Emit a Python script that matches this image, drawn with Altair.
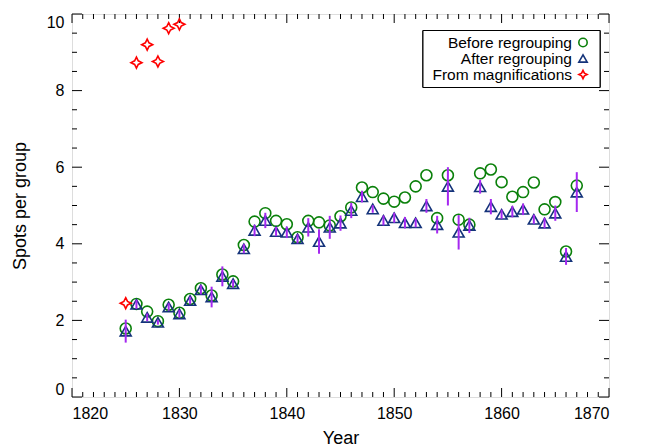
import altair as alt
import pandas as pd

years = list(range(1825, 1868))
before = [1.79, 2.43, 2.23, 1.98, 2.41, 2.20, 2.56, 2.84, 2.65, 3.20, 3.02, 3.97, 4.58, 4.80, 4.60,
          4.51, 4.17, 4.60, 4.56, 4.48, 4.72, 4.95, 5.47, 5.35, 5.18, 5.10, 5.21, 5.50, 5.79, 4.67,
          5.79, 4.63, 4.50, 5.84, 5.94, 5.61, 5.23, 5.35, 5.60, 4.90, 5.09, 3.80, 5.52]
after = [1.72, 2.42, 2.08, 1.95, 2.35, 2.17, 2.52, 2.80, 2.61, 3.15, 2.96, 3.87, 4.35, 4.61, 4.32,
         4.30, 4.13, 4.43, 4.06, 4.43, 4.54, 4.87, 5.23, 4.91, 4.61, 4.68, 4.55, 4.55, 4.99, 4.50,
         5.50, 4.30, 4.48, 5.49, 4.97, 4.77, 4.84, 4.90, 4.64, 4.54, 4.80, 3.67, 5.35]
after_err = [0.30, 0.12, 0.10, 0.06, 0.10, 0.10, 0.10, 0.12, 0.27, 0.26, 0.10, 0.12, 0.15, 0.20, 0.12,
             0.15, 0.12, 0.24, 0.32, 0.30, 0.20, 0.20, 0.15, 0.10, 0.13, 0.13, 0.15, 0.12, 0.18, 0.23,
             0.50, 0.45, 0.20, 0.18, 0.20, 0.12, 0.15, 0.15, 0.12, 0.14, 0.20, 0.22, 0.52]
mag_years = [1825, 1826, 1827, 1828, 1829, 1830]
mag = [2.45, 8.73, 9.20, 8.76, 9.63, 9.73]

series_names = ["Before regrouping", "After regrouping", "From magnifications"]
series_colors = ["#0a800a", "#14337a", "#ff0000"]
STAR = "M0,-1L0.33,-0.33L1,0L0.33,0.33L0,1L-0.33,0.33L-1,0L-0.33,-0.33Z"
series_shapes = ["circle", "triangle-up", STAR]

x_major = [1820, 1830, 1840, 1850, 1860, 1870]
x_minor = [y for y in range(1821, 1870) if y % 10 != 0]
y_major = [0, 2, 4, 6, 8, 10]
y_minor = [v / 2 for v in range(0, 21) if v % 4 != 0]

W, H = 537, 383
FONT = "Liberation Sans"

rows = []
for yr, v in zip(years, before):
    rows.append({"year": yr, "value": v, "series": series_names[0]})
for yr, v in zip(years, after):
    rows.append({"year": yr, "value": v, "series": series_names[1]})
for yr, v in zip(mag_years, mag):
    rows.append({"year": yr, "value": v, "series": series_names[2]})
pts = pd.DataFrame(rows)

err = pd.DataFrame({
    "year": years,
    "lo": [a - e for a, e in zip(after, after_err)],
    "hi": [a + e for a, e in zip(after, after_err)],
})

xs = alt.Scale(domain=[1820, 1870], nice=False, zero=False)
ys = alt.Scale(domain=[0, 10], nice=False, zero=False)
color_scale = alt.Scale(domain=series_names, range=series_colors)
shape_scale = alt.Scale(domain=series_names, range=series_shapes)

xaxis = alt.Axis(values=x_major, format="d", domain=False, ticks=False, grid=False,
                 labelFontSize=16, labelPadding=8, labelColor="black", labelFont=FONT,
                 title="Year", titleFontSize=18, titleFontWeight="normal", titleFont=FONT,
                 titleColor="black", titlePadding=8)
yaxis = alt.Axis(values=y_major, format="d", domain=False, ticks=False, grid=False,
                 labelFontSize=16, labelPadding=8, labelColor="black", labelFont=FONT,
                 labelFlush=True,
                 title="Spots per group", titleFontSize=18, titleFontWeight="normal",
                 titleFont=FONT, titleColor="black", titlePadding=17)

points = alt.Chart(pts).mark_point(filled=False, strokeWidth=1.6, opacity=1, size=120).encode(
    x=alt.X("year:Q", scale=xs, axis=xaxis),
    y=alt.Y("value:Q", scale=ys, axis=yaxis),
    color=alt.Color("series:N", scale=color_scale, legend=None),
    shape=alt.Shape("series:N", scale=shape_scale, legend=None),
)

errbars = alt.Chart(err).mark_rule(color="#a528f0", strokeWidth=2).encode(
    x=alt.X("year:Q", scale=xs, axis=xaxis),
    y=alt.Y("lo:Q", scale=ys, axis=yaxis),
    y2="hi:Q",
)


def xticks(vals, length, top):
    df = pd.DataFrame({"t": vals})
    y0 = 0 if top else H
    y1 = length if top else H - length
    return alt.Chart(df).mark_rule(color="black", strokeWidth=1).encode(
        x=alt.X("t:Q", scale=xs, axis=xaxis), y=alt.value(y0), y2=alt.value(y1))


def yticks(vals, length, right):
    df = pd.DataFrame({"t": vals})
    x0 = W if right else 0
    x1 = W - length if right else length
    return alt.Chart(df).mark_rule(color="black", strokeWidth=1).encode(
        y=alt.Y("t:Q", scale=ys, axis=yaxis), x=alt.value(x0), x2=alt.value(x1))


tick_layers = [
    xticks(x_major, 9, False), xticks(x_minor, 5, False),
    xticks(x_major, 9, True), xticks(x_minor, 5, True),
    yticks(y_major, 10, False), yticks(y_minor, 5, False),
    yticks(y_major, 10, True), yticks(y_minor, 5, True),
]

# legend (drawn as a boxed key in the upper right of the plot area)
LEG_X0, LEG_X1, LEG_Y0, LEG_Y1 = 351, 528, 16.5, 73.5
LEG_TEXT_X, LEG_SYM_X, LEG_ROW0, LEG_ROW_STEP = 500, 511, 28.5, 16
leg_df = pd.DataFrame({"series": series_names, "row": [0, 1, 2]})

leg_box = alt.Chart(leg_df).mark_rect(fill="white", stroke="black", strokeWidth=1).encode(
    x=alt.value(LEG_X0), x2=alt.value(LEG_X1), y=alt.value(LEG_Y0), y2=alt.value(LEG_Y1))

leg_base = alt.Chart(leg_df).transform_calculate(
    py=f"{LEG_ROW0} + {LEG_ROW_STEP} * datum.row")

leg_text = leg_base.mark_text(align="right", baseline="middle", font=FONT, fontSize=15.5,
                              color="black").encode(
    x=alt.value(LEG_TEXT_X), y=alt.Y("py:Q", scale=None), text="series:N")

leg_sym = leg_base.mark_point(filled=False, strokeWidth=1.6, opacity=1, size=70).encode(
    x=alt.value(LEG_SYM_X), y=alt.Y("py:Q", scale=None),
    color=alt.Color("series:N", scale=color_scale, legend=None),
    shape=alt.Shape("series:N", scale=shape_scale, legend=None),
)

chart = alt.layer(*tick_layers, points, errbars, leg_box, leg_text, leg_sym).properties(
    width=W, height=H,
    autosize="none",
    padding={"left": 64, "top": 6, "right": 20, "bottom": 54},
).configure_view(stroke="black", strokeWidth=1).configure(font=FONT, background="white")

chart.save("out.html", embed_options={"renderer": "svg", "actions": False})
